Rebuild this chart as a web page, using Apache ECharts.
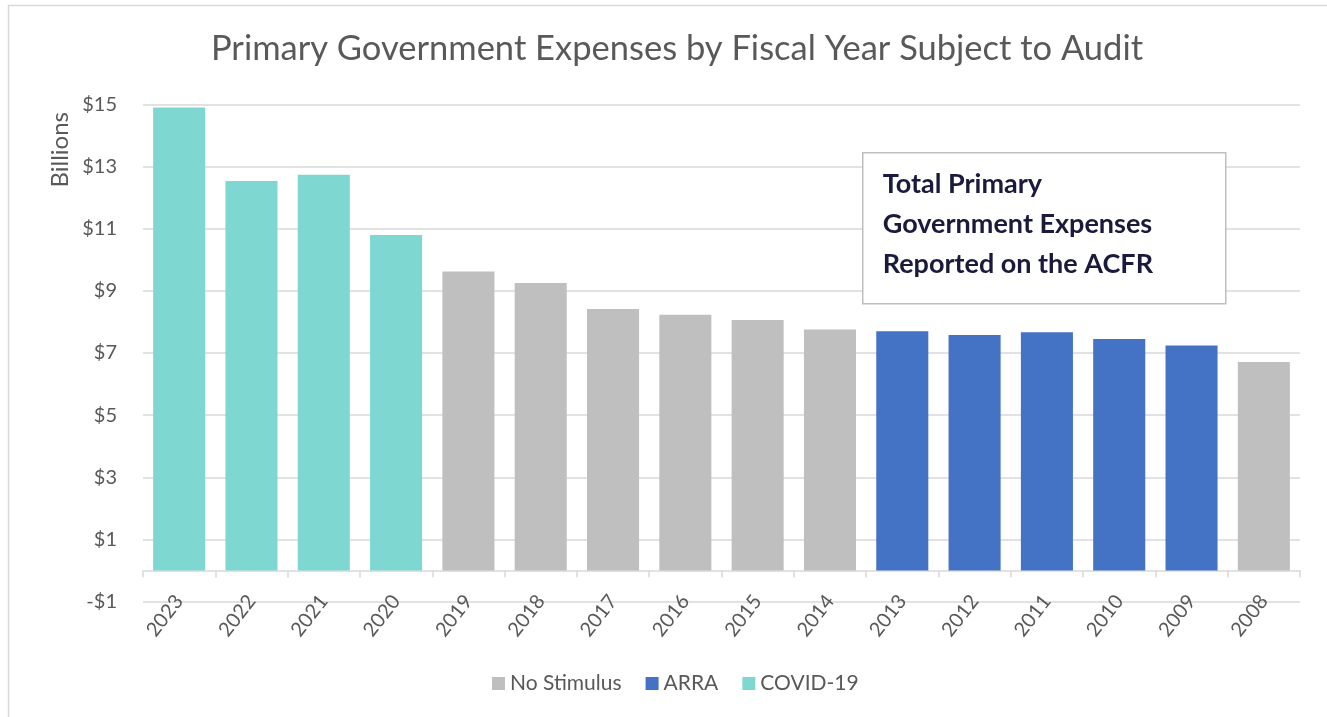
<!DOCTYPE html>
<html>
<head>
<meta charset="utf-8">
<script src="https://cdn.jsdelivr.net/npm/echarts@6/dist/echarts.min.js"></script>
<style>
  html, body { margin: 0; padding: 0; background: #ffffff; }
  #chart { width: 1327px; height: 717px; }
</style>
</head>
<body>
<div id="chart"></div>
<script>
// ---- data ----
const categories = ['2023', '2022', '2021', '2020', '2019', '2018', '2017', '2016', '2015', '2014', '2013', '2012', '2011', '2010', '2009', '2008'];
const noStimulus = ['-', '-', '-', '-', 9.62, 9.25, 8.42, 8.23, 8.06, 7.76, '-', '-', '-', '-', '-', 6.71];
const arra       = ['-', '-', '-', '-', '-', '-', '-', '-', '-', '-', 7.70, 7.58, 7.67, 7.45, 7.24, '-'];
const covid      = [14.90, 12.54, 12.74, 10.80, '-', '-', '-', '-', '-', '-', '-', '-', '-', '-', '-', '-'];
const seriesNames = ['No Stimulus', 'ARRA', 'COVID-19'];
const titleText = 'Primary Government Expenses by Fiscal Year Subject to Audit';
const yAxisTitle = 'Billions';
const noteLines = ['Total Primary', 'Government Expenses', 'Reported on the ACFR'];

const FONT = 'Lato, "Open Sans", sans-serif';
const TEXT_COLOR = '#595959';
const GRID_COLOR = '#d9d9d9';

const chart = echarts.init(document.getElementById('chart'), null, { renderer: 'canvas' });

function barSeries(name, data, color) {
  return {
    name: name,
    type: 'bar',
    stack: 'total',
    data: data,
    barCategoryGap: '28%',
    itemStyle: { color: color },
    emphasis: { disabled: true }
  };
}

const option = {
  backgroundColor: '#ffffff',
  animation: false,
  textStyle: { fontFamily: FONT },
  title: {
    text: titleText,
    left: 672,
    textAlign: 'center',
    top: 26,
    textStyle: { fontFamily: FONT, fontSize: 34.5, fontWeight: 'normal', color: TEXT_COLOR }
  },
  legend: {
    bottom: 18,
    left: 487,
    icon: 'rect',
    itemWidth: 13,
    itemHeight: 13,
    itemGap: 24,
    data: seriesNames,
    textStyle: { fontFamily: FONT, fontSize: 21, color: TEXT_COLOR }
  },
  grid: { left: 143, right: 27, top: 104.5, bottom: 115.5, containLabel: false },
  xAxis: {
    type: 'category',
    data: categories,
    boundaryGap: true,
    axisLine: { onZero: true, lineStyle: { color: GRID_COLOR, width: 1.5 } },
    axisTick: { show: true, alignWithLabel: false, length: 7, lineStyle: { color: GRID_COLOR, width: 1.5 } },
    axisLabel: { rotate: 52, margin: -4, fontFamily: FONT, fontSize: 20, color: TEXT_COLOR, interval: 0 }
  },
  yAxis: {
    type: 'value',
    min: -1,
    max: 15,
    interval: 2,
    axisLine: { show: false },
    axisTick: { show: false },
    splitLine: { lineStyle: { color: GRID_COLOR, width: 1.5 } },
    axisLabel: {
      margin: 26,
      fontFamily: FONT,
      fontSize: 20,
      color: TEXT_COLOR,
      formatter: function (v) { return v < 0 ? '-$' + Math.abs(v) : '$' + v; }
    }
  },
  series: [
    barSeries(seriesNames[0], noStimulus, '#bfbfbf'),
    barSeries(seriesNames[1], arra, '#4472c4'),
    barSeries(seriesNames[2], covid, '#7ed7d0')
  ],
  graphic: [
    { type: 'line', z: 100, shape: { x1: 8, y1: 5.5, x2: 1327, y2: 5.5 }, style: { stroke: GRID_COLOR, lineWidth: 1.5 }, silent: true },
    { type: 'line', z: 100, shape: { x1: 8.5, y1: 5, x2: 8.5, y2: 717 }, style: { stroke: GRID_COLOR, lineWidth: 1.5 }, silent: true },
    {
      type: 'text',
      z: 100,
      left: 48,
      top: 112,
      style: { text: yAxisTitle, fontFamily: FONT, fontSize: 24, fill: TEXT_COLOR },
      rotation: Math.PI / 2,
      silent: true
    },
    {
      type: 'group',
      z: 100,
      left: 862,
      top: 152,
      children: [
        { type: 'rect', z: 100, shape: { x: 0, y: 0, width: 363, height: 151 }, style: { fill: '#ffffff', stroke: '#bfbfbf', lineWidth: 1.5 } },
        { type: 'text', z: 101, left: 20, top: 12, style: { text: noteLines.join('\n'), fontFamily: FONT, fontSize: 27, fontWeight: 'bold', fill: '#1a1a3c', lineHeight: 40 } }
      ]
    }
  ]
};

chart.setOption(option);
</script>
</body>
</html>
